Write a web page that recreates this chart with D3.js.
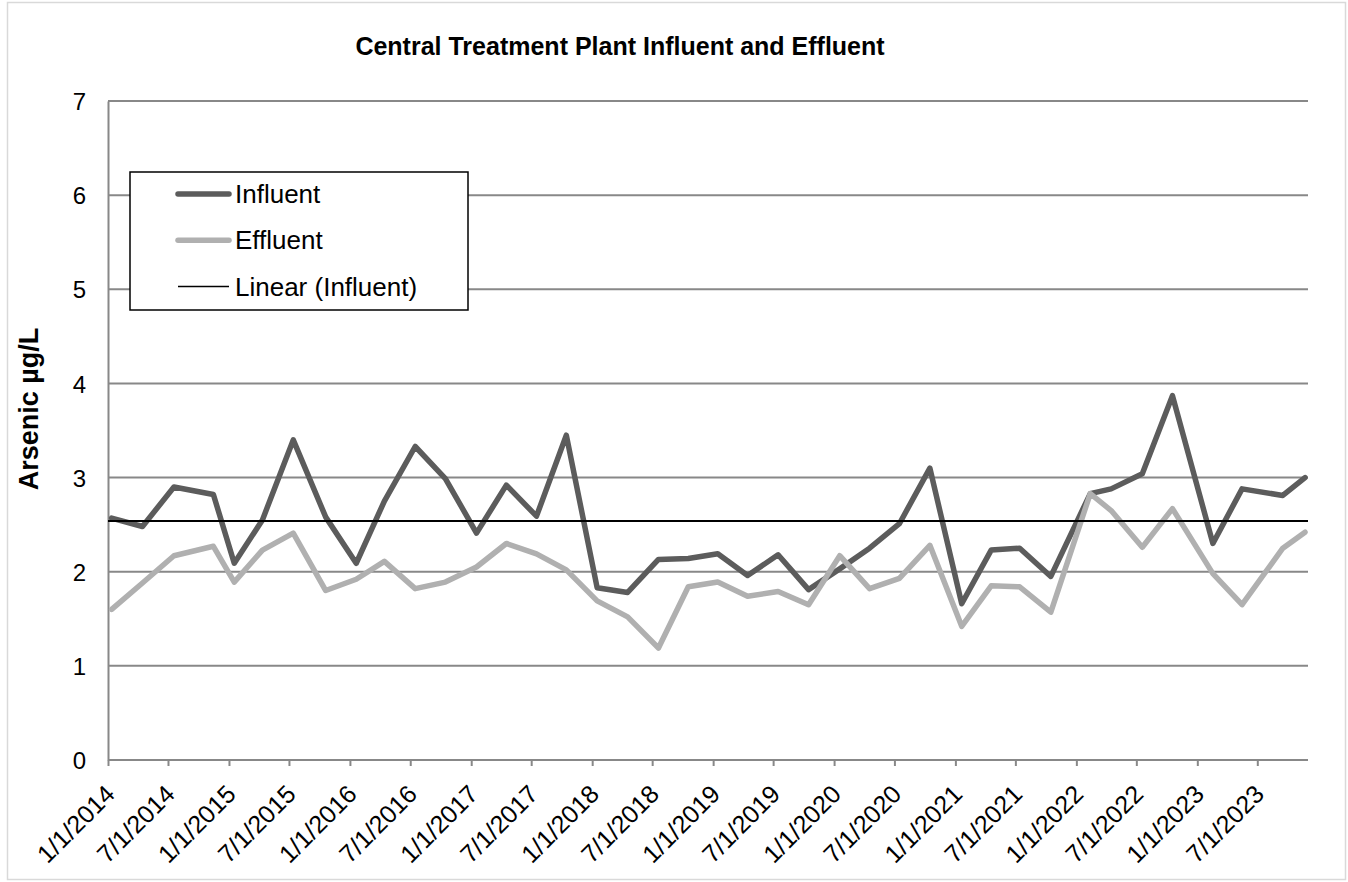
<!DOCTYPE html>
<html>
<head>
<meta charset="utf-8">
<script src="https://cdn.jsdelivr.net/npm/d3@7"></script>
<style>
  body { margin: 0; background: #fff; }
  text { font-family: "Liberation Sans", Arial, sans-serif; fill: #000; }
</style>
</head>
<body>
<div class="chart"></div>
<script>
// Sample dates and arsenic values
var sampleDates = ["2014-01-12", "2014-04-15", "2014-07-19", "2014-11-15", "2015-01-17", "2015-04-12",
    "2015-07-14", "2015-10-20", "2016-01-20", "2016-04-14", "2016-07-16", "2016-10-15",
    "2017-01-17", "2017-04-17", "2017-07-17", "2017-10-15", "2018-01-16", "2018-04-18",
    "2018-07-20", "2018-10-18", "2019-01-15", "2019-04-15", "2019-07-16", "2019-10-16",
    "2020-01-18", "2020-04-17", "2020-07-16", "2020-10-16", "2021-01-20", "2021-04-19",
    "2021-07-14", "2021-10-16", "2022-02-12", "2022-04-16", "2022-07-19", "2022-10-18",
    "2023-02-17", "2023-05-16", "2023-09-16", "2023-11-22"];

var influent = [2.57, 2.48, 2.90, 2.82, 2.09, 2.55, 3.40, 2.58, 2.09, 2.75, 3.33, 2.99,
    2.41, 2.92, 2.59, 3.45, 1.83, 1.78, 2.13, 2.14, 2.19, 1.96, 2.18, 1.81,
    2.03, 2.25, 2.51, 3.10, 1.66, 2.23, 2.25, 1.95, 2.83, 2.88, 3.04, 3.87,
    2.30, 2.88, 2.81, 3.00];

var effluent = [1.60, 1.88, 2.17, 2.27, 1.89, 2.23, 2.41, 1.80, 1.92, 2.11, 1.82, 1.89,
    2.05, 2.30, 2.19, 2.02, 1.69, 1.52, 1.19, 1.84, 1.89, 1.74, 1.79, 1.65,
    2.17, 1.82, 1.93, 2.28, 1.42, 1.85, 1.84, 1.57, 2.83, 2.65, 2.26, 2.67,
    1.98, 1.65, 2.25, 2.42];

// Linear (Influent) trendline at the two ends of the axis
var trendDates = ["2014-01-01", "2023-12-01"];
var trendValues = [2.54, 2.54];

var xTickLabels = ["1/1/2014", "7/1/2014", "1/1/2015", "7/1/2015", "1/1/2016", "7/1/2016",
    "1/1/2017", "7/1/2017", "1/1/2018", "7/1/2018", "1/1/2019", "7/1/2019",
    "1/1/2020", "7/1/2020", "1/1/2021", "7/1/2021", "1/1/2022", "7/1/2022",
    "1/1/2023", "7/1/2023"];
var yTicks = [0, 1, 2, 3, 4, 5, 6, 7];

var seriesNames = ["Influent", "Effluent", "Linear (Influent)"];

var svgWidth = 1348;
var svgHeight = 882;

var margin = { top: 101, right: 40, bottom: 122, left: 108 };
var width = 1308 - margin.left;
var height = 760 - margin.top;

var parseDate = d3.timeParse("%Y-%m-%d");
var parseLabel = d3.timeParse("%m/%d/%Y");

var svg = d3.select(".chart")
    .append("svg")
    .attr("width", svgWidth)
    .attr("height", svgHeight);

// outer chart border
svg.append("rect")
    .attr("x", 7.5).attr("y", 2.5)
    .attr("width", 1338).attr("height", 877)
    .attr("fill", "none")
    .attr("stroke", "#d9d9d9")
    .attr("stroke-width", 1.5);

var chartGroup = svg.append("g")
    .attr("transform", `translate(${margin.left}, ${margin.top})`);

var xScale = d3.scaleTime()
    .domain([parseDate("2014-01-01"), parseDate("2023-12-01")])
    .range([0, width]);

var yScale = d3.scaleLinear()
    .domain([0, 7])
    .range([height, 0]);

// gridlines
chartGroup.append("g")
    .selectAll("line")
    .data(yTicks.filter(d => d > 0))
    .enter()
    .append("line")
    .attr("x1", 0)
    .attr("x2", width)
    .attr("y1", d => yScale(d))
    .attr("y2", d => yScale(d))
    .attr("stroke", "#888")
    .attr("stroke-width", 2);

// y axis
var leftAxis = d3.axisLeft(yScale).tickValues(yTicks).tickSize(0).tickPadding(22).tickFormat(d3.format("d"));
var yAxisG = chartGroup.append("g").call(leftAxis);
yAxisG.select(".domain").attr("stroke", "#888").attr("stroke-width", 2);
yAxisG.selectAll("text").style("font-size", "24px").attr("dy", "0.36em");

// x axis
var tickDates = xTickLabels.map(parseLabel);
var bottomAxis = d3.axisBottom(xScale).tickValues(tickDates).tickSize(6).tickFormat("");
var xAxisG = chartGroup.append("g")
    .attr("transform", `translate(0, ${height})`)
    .call(bottomAxis);
xAxisG.select(".domain").attr("stroke", "#888").attr("stroke-width", 2).attr("d", `M0,0H${width}`);
xAxisG.selectAll(".tick line").attr("stroke", "#888").attr("stroke-width", 2);

chartGroup.append("g")
    .selectAll("text")
    .data(xTickLabels)
    .enter()
    .append("text")
    .attr("transform", (d, i) => `translate(${xScale(tickDates[i]) + 8.4}, ${height + 35.7}) rotate(-45)`)
    .style("text-anchor", "end")
    .style("font-size", "25px")
    .text(d => d);

// lines
var dates = sampleDates.map(parseDate);
var line = d3.line()
    .x((d, i) => xScale(dates[i]))
    .y(d => yScale(d));

chartGroup.append("path")
    .datum(influent)
    .attr("d", line)
    .attr("fill", "none")
    .attr("stroke", "#5c5c5c")
    .attr("stroke-width", 5.5)
    .attr("stroke-linejoin", "round")
    .attr("stroke-linecap", "round");

chartGroup.append("path")
    .datum(effluent)
    .attr("d", line)
    .attr("fill", "none")
    .attr("stroke", "#b0b0b0")
    .attr("stroke-width", 5.5)
    .attr("stroke-linejoin", "round")
    .attr("stroke-linecap", "round");

// trendline
var trendLine = d3.line()
    .x((d, i) => xScale(parseDate(trendDates[i])))
    .y(d => yScale(d));

chartGroup.append("path")
    .datum(trendValues)
    .attr("d", trendLine)
    .attr("fill", "none")
    .attr("stroke", "#000")
    .attr("stroke-width", 2);

// title
svg.append("text")
    .attr("x", 620)
    .attr("y", 55)
    .style("text-anchor", "middle")
    .style("font-size", "25px")
    .style("font-weight", "bold")
    .text("Central Treatment Plant Influent and Effluent");

// y axis label
svg.append("text")
    .attr("transform", "translate(38, 409) rotate(-90)")
    .style("text-anchor", "middle")
    .style("font-size", "27px")
    .style("font-weight", "bold")
    .text("Arsenic µg/L");

// legend
var legend = svg.append("g");
legend.append("rect")
    .attr("x", 130).attr("y", 172)
    .attr("width", 338).attr("height", 138)
    .attr("fill", "#fff")
    .attr("stroke", "#000")
    .attr("stroke-width", 1.5);

var legendStyles = [
    { color: "#5c5c5c", w: 5.5 },
    { color: "#b0b0b0", w: 5.5 },
    { color: "#000", w: 1.5 }
];

seriesNames.forEach(function(name, i) {
    var ly = 194 + i * 46.3;
    legend.append("line")
        .attr("x1", 178).attr("x2", 229)
        .attr("y1", ly).attr("y2", ly)
        .attr("stroke", legendStyles[i].color)
        .attr("stroke-width", legendStyles[i].w)
        .attr("stroke-linecap", i < 2 ? "round" : "butt");
    legend.append("text")
        .attr("x", 235)
        .attr("y", ly + 9)
        .style("font-size", "26px")
        .text(name);
});
</script>
</body>
</html>
